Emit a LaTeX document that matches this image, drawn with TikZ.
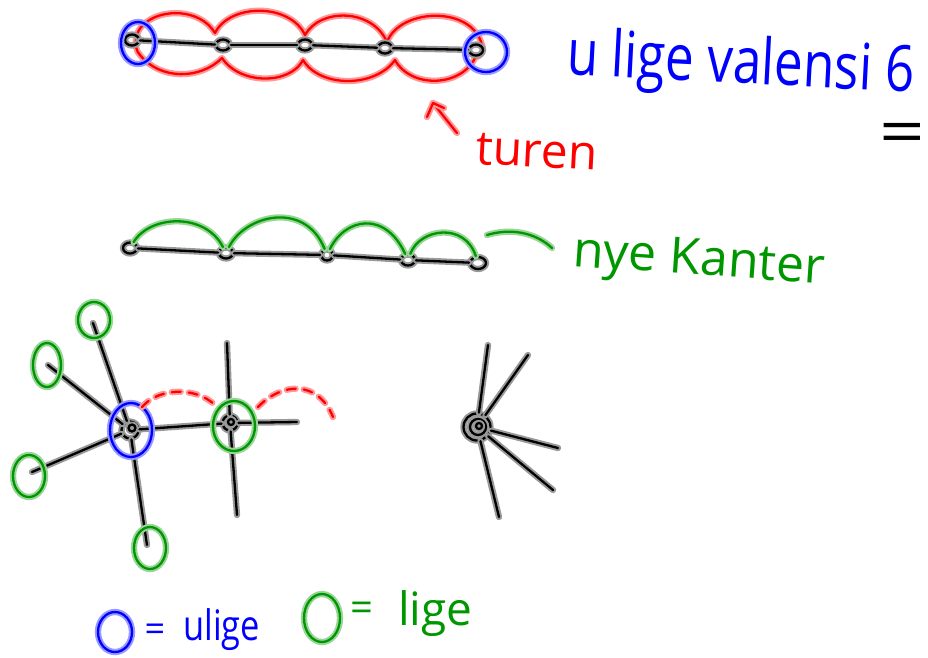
\documentclass[tikz,border=0pt]{standalone}
\usepackage{fontspec}
\setmainfont{Open Sans}
\usepackage{graphicx}
\usetikzlibrary{shapes.geometric}
\definecolor{pgreen}{RGB}{0,150,0}
\definecolor{pblue}{RGB}{0,0,255}
\definecolor{pred}{RGB}{255,0,0}
\begin{document}
\begin{tikzpicture}[x=1pt,y=-1pt,
 pen/.style={line width=2pt, double distance=2.3pt, line cap=round, line join=round},
 bpen/.style={pen, draw=black!40, double=black},
 rpen/.style={pen, draw=pred!40, double=pred},
 gpen/.style={pen, draw=pgreen!40, double=pgreen},
 upen/.style={pen, draw=pblue!40, double=pblue},
 vtx/.style={bpen, ellipse, minimum width=14pt, minimum height=11pt, inner sep=0pt},
 dot/.style={bpen, circle, inner sep=0pt, minimum size=#1},
 hand/.style={inner sep=0pt, anchor=base west}
]
\fill[white] (0,0) rectangle (928,657);
\useasboundingbox (0,0) rectangle (928,657);

% ---------- top graph with the tour ----------
\draw[rpen] (143,25) .. controls (160,8) and (200,8) .. (215,33)
  .. controls (230,3) and (290,3) .. (305,35)
  .. controls (320,8) and (372,8) .. (387,42)
  .. controls (400,8) and (472,5) .. (482,45)
  .. controls (485,52) and (480,56) .. (475,58)
  .. controls (460,88) and (410,88) .. (395,60)
  .. controls (375,88) and (320,88) .. (303,60)
  .. controls (290,85) and (240,85) .. (222,58)
  .. controls (200,80) and (160,80) .. (140,55)
  .. controls (133,48) and (135,32) .. (143,25) -- cycle;
\node[vtx] (t1) at (132,40) {};
\node[vtx] (t2) at (223,45) {};
\node[vtx] (t3) at (305,45) {};
\node[vtx] (t4) at (385,48) {};
\node[vtx] (t5) at (476,50) {};
\draw[bpen] (t1) -- (t2);
\draw[bpen] (t2) -- (t3);
\draw[bpen] (t3) -- (t4);
\draw[bpen] (t4) -- (t5);
\node[upen, ellipse, minimum width=34pt, minimum height=42pt, inner sep=0pt] (bL) at (138,43) {};
\node[upen, ellipse, minimum width=42pt, minimum height=40pt, inner sep=0pt] (bR) at (486,52) {};

% arrow and "turen"
\coordinate (ah) at (433,103);
\coordinate (at) at (457,133);
\draw[rpen] (at) -- (ah);
\draw[rpen] (427,117) -- (ah) -- (444,108);
\node[hand, text=pred, font=\fontsize{48}{52}\selectfont, rotate=-3] (turen) at (475,164) {turen};

\node[hand, text=pblue, font=\fontsize{64}{70}\selectfont, rotate=-3] (val) at (566,74) {\scalebox{0.8}[1]{u lige valensi 6}};
\node[inner sep=0pt, font=\fontsize{64}{70}\selectfont] (eq) at (902,139) {\scalebox{1.25}[1]{=}};

% ---------- middle graph with new edges ----------
\node[vtx] (m1) at (130,248) {};
\node[vtx] (m2) at (226,253) {};
\node[vtx, minimum width=12pt] (m3) at (327,255) {};
\node[vtx] (m4) at (408,260) {};
\node[vtx, minimum width=16pt, minimum height=12pt] (m5) at (478,263) {};
\draw[bpen] (m1) -- (m2);
\draw[bpen] (m2) -- (m3);
\draw[bpen] (m3) -- (m4);
\draw[bpen] (m4) -- (m5);
\draw[gpen] (m1) .. controls (150,215) and (205,212) .. (m2);
\draw[gpen] (m2) .. controls (245,215) and (305,200) .. (m3);
\draw[gpen] (m3) .. controls (345,218) and (385,210) .. (m4);
\draw[gpen] (m4) .. controls (420,228) and (465,222) .. (m5);
\coordinate (w1) at (487,235);
\coordinate (w2) at (552,248);
\draw[gpen] (w1) .. controls (510,228) and (535,232) .. (w2);
\node[hand, text=pgreen, font=\fontsize{50}{56}\selectfont, rotate=-4] (nye) at (572,266) {nye Kanter};

% ---------- bottom left star ----------
\coordinate (e1) at (93,323);
\coordinate (e2) at (48,365);
\coordinate (e3) at (32,472);
\coordinate (e4) at (147,545);
\coordinate (f1) at (227,343);
\coordinate (f2) at (237,515);
\coordinate (f3) at (297,422);
\node[dot=17pt] (c1) at (130,430) {};
\node[dot=7pt] (c1i) at (132,428) {};
\node[dot=15pt] (c2) at (230,423) {};
\node[dot=6pt] (c2i) at (231,422) {};
\draw[bpen] (c1) -- (e1);
\draw[bpen] (c1) -- (e2);
\draw[bpen] (c1) -- (e3);
\draw[bpen] (c1) -- (e4);
\draw[bpen] (c1) -- (c2);
\draw[bpen] (c2) -- (f1);
\draw[bpen] (c2) -- (f2);
\draw[bpen] (c2) -- (f3);
\node[upen, ellipse, minimum width=42pt, minimum height=54pt, inner sep=0pt] (u1) at (131,430) {};
\node[gpen, ellipse, minimum width=42pt, minimum height=50pt, inner sep=0pt] (g2) at (234,426) {};
\node[gpen, ellipse, minimum width=32pt, minimum height=36pt, inner sep=0pt] (g1a) at (94,320) {};
\node[gpen, ellipse, minimum width=28pt, minimum height=44pt, inner sep=0pt] (g1b) at (47,365) {};
\node[gpen, ellipse, minimum width=32pt, minimum height=42pt, inner sep=0pt] (g1c) at (29,476) {};
\node[gpen, ellipse, minimum width=32pt, minimum height=42pt, inner sep=0pt] (g1d) at (150,548) {};
\coordinate (d1) at (142,407);
\coordinate (d2) at (215,405);
\coordinate (d3) at (258,407);
\coordinate (d4) at (333,417);
\draw[rpen, dash pattern=on 9pt off 8pt] (d1) .. controls (158,388) and (195,386) .. (d2);
\draw[rpen, dash pattern=on 9pt off 8pt] (d3) .. controls (282,382) and (318,380) .. (d4);

% ---------- right star ----------
\coordinate (r1) at (488,345);
\coordinate (r2) at (528,355);
\coordinate (r3) at (558,448);
\coordinate (r4) at (553,490);
\coordinate (r5) at (499,517);
\node[dot=27pt] (c3) at (477,427) {};
\node[dot=16pt] (c3m) at (478,427) {};
\node[dot=6pt] (c3i) at (479,426) {};
\draw[bpen] (c3) -- (r1);
\draw[bpen] (c3) -- (r2);
\draw[bpen] (c3) -- (r3);
\draw[bpen] (c3) -- (r4);
\draw[bpen] (c3) -- (r5);

% ---------- legend ----------
\node[upen, ellipse, minimum width=34pt, minimum height=40pt, inner sep=0pt] (lo1) at (115,632) {};
\node[inner sep=0pt, text=pblue, font=\fontsize{36}{40}\selectfont] (leq1) at (155,633) {=};
\node[hand, text=pblue, font=\fontsize{42}{46}\selectfont] (lt1) at (183,640) {\scalebox{0.82}[1]{ulige}};
\node[gpen, ellipse, minimum width=36pt, minimum height=48pt, inner sep=0pt] (lo2) at (322,618) {};
\node[inner sep=0pt, text=pgreen, font=\fontsize{40}{44}\selectfont] (leq2) at (362,612) {=};
\node[hand, text=pgreen, font=\fontsize{46}{50}\selectfont] (lt2) at (398,625) {lige};
\end{tikzpicture}
\end{document}
